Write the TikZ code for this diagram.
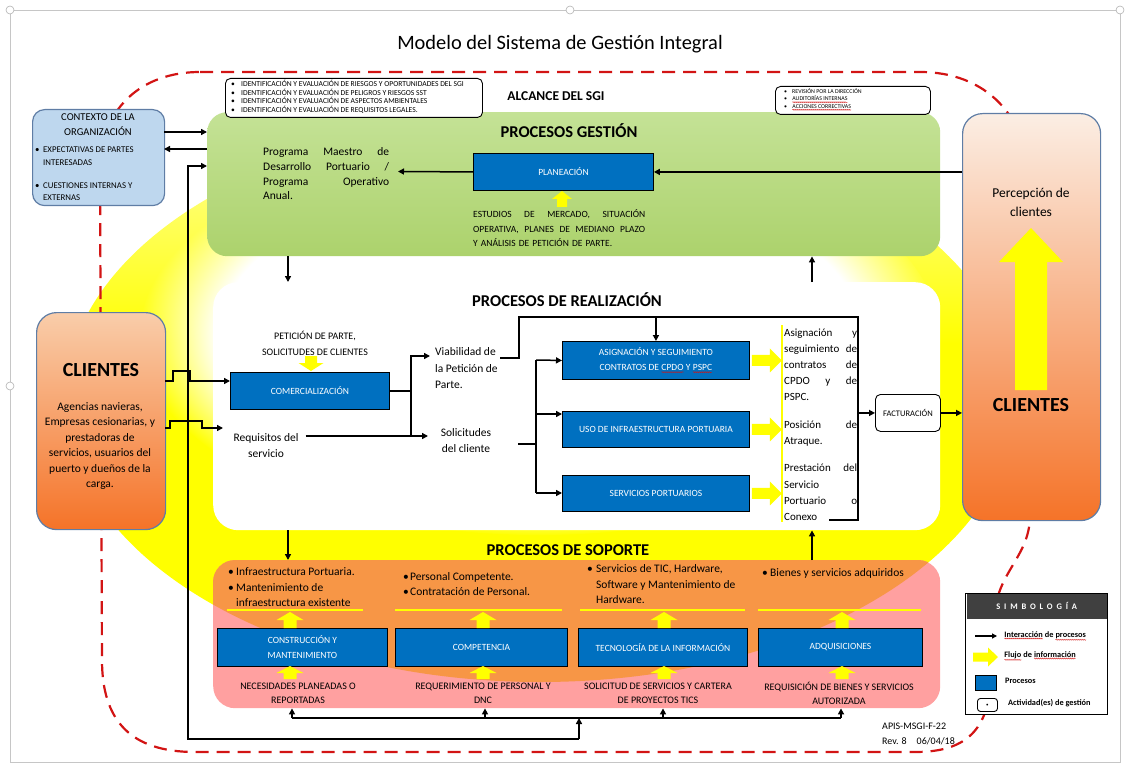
\documentclass[tikz,border=0pt]{standalone}
\usepackage{fontspec}
\setmainfont{Carlito}
\newfontfamily\spacedfont[LetterSpace=45]{Carlito}
\usetikzlibrary{arrows.meta,decorations.pathmorphing,fadings}

\definecolor{procblue}{RGB}{0,112,192}
\definecolor{gestgreenT}{RGB}{196,226,150}
\definecolor{gestgreenB}{RGB}{172,210,108}
\definecolor{ctxblue}{RGB}{190,215,238}
\definecolor{boxedge}{RGB}{95,125,165}
\definecolor{cliTopL}{RGB}{249,205,170}
\definecolor{cliTopR}{RGB}{251,238,228}
\definecolor{cliBot}{RGB}{245,115,40}
\definecolor{sopPink}{RGB}{255,160,160}
\definecolor{sopOrange}{RGB}{247,150,70}
\definecolor{scopeRed}{RGB}{210,20,20}
\definecolor{infoYellow}{RGB}{255,255,0}
\definecolor{symbGray}{RGB}{64,64,64}

\pgfdeclareverticalshading{glowv}{100bp}{color(0bp)=(infoYellow); color(55bp)=(infoYellow); color(72bp)=(infoYellow!45); color(100bp)=(infoYellow!8)}

% linea justificada a un ancho dado
\newcommand\spreadto[2]{\makebox[#1][s]{\spaceskip=0pt\xspaceskip=0pt\relax #2}}
% subrayado ondulado rojo (marca de ortografia)
\newcommand\spellwave[1]{\tikz[baseline=(sw.base), x=1cm, y=1cm]{\node[rectangle, draw=none, fill=none, inner sep=0pt,
    outer sep=0pt, minimum width=0pt, minimum height=0pt, anchor=center] (sw) {#1};
  \draw[scopeRed, fill=none, line width=0.4pt, decorate, decoration={snake, amplitude=0.55pt, segment length=2pt}]
    ([yshift=-1.2pt]sw.south west) -- ([yshift=-1.2pt]sw.south east);}}

\tikzset{
  % flecha gruesa amarilla: largo/ancho cuerpo/ancho punta/largo punta
  pics/flechaInfo/.style args={#1/#2/#3/#4}{code={
    \fill[infoYellow] (0,-#2/2) -- (#1-#4,-#2/2) -- (#1-#4,-#3/2) -- (#1,0)
      -- (#1-#4,#3/2) -- (#1-#4,#2/2) -- (0,#2/2) -- cycle;}}
}

\begin{document}
\begin{tikzpicture}[x=1pt, y=-1pt,
    zonebox/.style={rectangle, rounded corners=20pt, inner sep=0pt, anchor=north west},
    procbox/.style={rectangle, draw=black, line width=0.9pt, fill=procblue, text=white,
      font=\fontsize{9.5}{15}\selectfont, align=center, inner sep=0pt, anchor=north west},
    notebox/.style={rectangle, rounded corners=5pt, draw=black, line width=0.9pt, fill=white,
      inner sep=0pt, anchor=north west},
    clientbox/.style={rectangle, rounded corners=20pt, draw=boxedge, line width=1.2pt,
      inner sep=0pt, anchor=north west, bottom color=cliBot},
    flow/.style={line width=1.5pt, -{Triangle[length=6pt,width=6pt]}},
    link/.style={line width=1.5pt},
    zonetitle/.style={font=\bfseries\fontsize{16.5}{18}\selectfont, inner sep=0pt},
    body/.style={inner sep=0pt, font=\fontsize{11.5}{15.5}\selectfont},
    smallcaps/.style={inner sep=0pt, font=\fontsize{10}{14}\selectfont},
    leyenda/.style={inner sep=0pt, anchor=west, font=\bfseries\fontsize{8.3}{9}\selectfont},
    scopeline/.style={draw=scopeRed, line width=2.2pt, dash pattern=on 13pt off 8pt}]
  \useasboundingbox (0,0) rectangle (1126,767);

  % marco de la captura
  \draw[gray!45, line width=0.6pt] (10,10) rectangle (1120,762);
  \foreach \hx/\hy in {10/10, 570/10, 1120/10, 10/386}
    \draw[gray!60, fill=white, line width=0.6pt] (\hx,\hy) circle [radius=4pt];

  % titulo
  \node[font=\fontsize{20.4}{22}\selectfont] (titulo) at (560,44) {Modelo del Sistema de Gestión Integral};

  % elipse amarilla y alcance
  \shade[shading=glowv] (540,400) ellipse [x radius=475pt, y radius=282pt];
  \fill[white, path fading=circle with fuzzy edge 20 percent] (540,335) ellipse [x radius=400pt, y radius=200pt];
  \draw[scopeline] (200,72) -- (920,72) .. controls (985,72) and (1030,115) .. (1030,190)
    -- (1030,515) .. controls (1030,555) and (1000,570) .. (995,610)
    -- (990,690) .. controls (985,735) and (960,752) .. (915,752)
    -- (195,752) .. controls (130,752) and (102,720) .. (102,660)
    -- (100,170) .. controls (100,110) and (140,72) .. (200,72);

  % zonas de procesos
  \node[zonebox, minimum width=733pt, minimum height=144pt, top color=gestgreenT, bottom color=gestgreenB] (gestion) at (207,112) {};
  \node[zonebox, rounded corners=25pt, minimum width=727pt, minimum height=248pt, fill=white] (realiz) at (213,282) {};
  \node[zonebox, rounded corners=22pt, minimum width=727pt, minimum height=148pt, fill=sopPink] (soporte) at (213,560) {};
  \begin{scope}
    \clip[rounded corners=22pt] (soporte.north west) rectangle (soporte.south east);
    \fill[sopOrange] (540,400) ellipse [x radius=475pt, y radius=282pt];
  \end{scope}

  % recuadros superiores
  \node[notebox, minimum width=257pt, minimum height=39pt] (riesgos) at (225,78) {};
  \node[inner sep=0pt, anchor=west, align=left, font=\fontsize{7.6}{8.6}\selectfont] (riesgostxt) at (231,97)
    {\makebox[10pt][l]{\textbullet}IDENTIFICACIÓN Y EVALUACIÓN DE RIESGOS Y OPORTUNIDADES DEL SGI\\
     \makebox[10pt][l]{\textbullet}IDENTIFICACIÓN Y EVALUACIÓN DE PELIGROS Y RIESGOS SST\\
     \makebox[10pt][l]{\textbullet}IDENTIFICACIÓN Y EVALUACIÓN DE ASPECTOS AMBIENTALES\\
     \makebox[10pt][l]{\textbullet}IDENTIFICACIÓN Y EVALUACIÓN DE REQUISITOS LEGALES.};
  \node[font=\bfseries\fontsize{13.5}{15}\selectfont] (alcance) at (556,96) {ALCANCE DEL SGI};
  \node[notebox, minimum width=155pt, minimum height=28pt] (revision) at (775,86) {};
  \node[inner sep=0pt, anchor=west, align=left, font=\fontsize{5.9}{7.6}\selectfont] (revisiontxt) at (784,99.5)
    {\makebox[8pt][l]{\textbullet}REVISIÓN POR LA DIRECCIÓN\\
     \makebox[8pt][l]{\textbullet}\spellwave{AUDITORÍAS INTERNAS}\\
     \makebox[8pt][l]{\textbullet}\spellwave{ACCIONES CORRECTIVAS}};

  % contexto de la organizacion
  \node[zonebox, rounded corners=12pt, minimum width=132pt, minimum height=96pt, fill=ctxblue, draw=boxedge, line width=1.2pt] (contexto) at (32,109) {};
  \node[inner sep=0pt, align=center, font=\fontsize{10.5}{15}\selectfont] (contextotit) at (98,125) {CONTEXTO DE LA\\ORGANIZACIÓN};
  \node[inner sep=0pt, anchor=west, align=left, font=\fontsize{8.8}{12.5}\selectfont] (expectativas) at (35,156)
    {\makebox[8pt][l]{\textbullet}EXPECTATIVAS DE PARTES\\\hspace*{8pt}INTERESADAS};
  \node[inner sep=0pt, anchor=west, align=left, font=\fontsize{8.8}{12.5}\selectfont] (cuestiones) at (35,191.5)
    {\makebox[8pt][l]{\textbullet}CUESTIONES INTERNAS Y\\\hspace*{8pt}EXTERNAS};

  % clientes
  \node[clientbox, top color=cliTopL, minimum width=129pt, minimum height=217pt] (clienteIzq) at (36,312) {};
  \node[font=\bfseries\fontsize{20}{22}\selectfont] (cliIzqTit) at (101,370) {CLIENTES};
  \node[body, align=center] (cliIzqTxt) at (100,446) {Agencias navieras,\\Empresas cesionarias, y\\prestadoras de\\servicios, usuarios del\\puerto y dueños de la\\carga.};
  \node[clientbox, top color=cliTopR, minimum width=138pt, minimum height=407pt] (clienteDer) at (962,113) {};
  \node[body, align=center, font=\fontsize{13.5}{19}\selectfont] (percepcion) at (1031,202.5) {Percepción de\\clientes};
  \pic[rotate=90] at (1031,390) {flechaInfo=162/32/64/34};
  \node[font=\bfseries\fontsize{20}{22}\selectfont] (cliDerTit) at (1031,405) {CLIENTES};

  % procesos gestion
  \node[zonetitle] (gestTit) at (569,131) {PROCESOS GESTIÓN};
  \node[procbox, minimum width=180pt, minimum height=37pt] (planeacion) at (473,153) {PLANEACIÓN};
  \node[body, text width=126pt, align=left, anchor=west, font=\fontsize{11.5}{14.7}\selectfont] (programa) at (263,174)
    {\spreadto{126pt}{Programa Maestro de}\\\spreadto{126pt}{Desarrollo Portuario /}\\\spreadto{126pt}{Programa Operativo}\\Anual.};
  \pic[rotate=90] at (562,207) {flechaInfo=16/10/20/8};
  \node[smallcaps, text width=172pt, align=left, anchor=west, font=\fontsize{9.5}{14.5}\selectfont] (estudios) at (473,228.5)
    {\spreadto{172pt}{ESTUDIOS DE MERCADO, SITUACIÓN}\\\spreadto{172pt}{OPERATIVA, PLANES DE MEDIANO PLAZO}\\Y ANÁLISIS DE PETICIÓN DE PARTE.};
  \coordinate (programaFin) at (398,171.5);
  \draw[flow] (planeacion.west) -- (programaFin);
  \draw[flow] (clienteDer.west |- planeacion.east) -- (planeacion.east);

  % contexto <-> gestion
  \coordinate (ctxSale) at (164,132);
  \coordinate (ctxEntra) at (164,149);
  \coordinate (ctxBus) at (207,166);
  \draw[flow] (ctxSale) -- (ctxSale -| gestion.west);
  \draw[flow] (ctxEntra -| gestion.west) -- (ctxEntra);

  % procesos de realizacion
  \node[zonetitle] (realTit) at (567,300) {PROCESOS DE REALIZACIÓN};
  \node[smallcaps, align=center, font=\fontsize{10}{16.5}\selectfont] (peticion) at (315,343.5) {PETICIÓN DE PARTE,\\SOLICITUDES DE CLIENTES};
  \pic[rotate=-90] at (311,356) {flechaInfo=15/12/25/8};
  \node[procbox, minimum width=159pt, minimum height=37pt] (comercial) at (230,372) {COMERCIALIZACIÓN};
  \node[body, align=center] (requisitos) at (266,445.5) {Requisitos del\\servicio};
  \node[body, align=left, anchor=west, font=\fontsize{11.5}{16.5}\selectfont] (viabilidad) at (435,368.5) {Viabilidad de\\la Petición de\\Parte.};
  \node[body, align=center, font=\fontsize{11.5}{16}\selectfont] (solicitudes) at (466,441) {Solicitudes\\del cliente};
  \node[procbox, minimum width=187pt, minimum height=38pt] (asignacion) at (562,341) {ASIGNACIÓN Y SEGUIMIENTO\\CONTRATOS DE \spellwave{CPDO} Y \spellwave{PSPC}};
  \node[procbox, minimum width=187pt, minimum height=36pt] (usoinfra) at (562,411) {USO DE INFRAESTRUCTURA PORTUARIA};
  \node[procbox, minimum width=187pt, minimum height=36pt] (servicios) at (562,475) {SERVICIOS PORTUARIOS};
  \node[notebox, minimum width=65pt, minimum height=37pt, font=\fontsize{8.5}{9}\selectfont] (facturacion) at (875,394) {FACTURACIÓN};

  % clientes -> comercializacion / requisitos
  \coordinate (cliA) at (165,381);
  \coordinate (cliB) at (165,428);
  \coordinate (aReq) at (223,428);
  \draw[flow] (cliA) -- ++(8,0) -- ++(0,-10) -- ++(17,0) -- ++(0,10) -- (cliA -| comercial.west);
  \draw[flow] (cliB) -- ++(5,0) -- ++(0,-7) -- ++(32,0) -- ++(0,7) -- (aReq);

  % comercializacion -> viabilidad / solicitudes
  \coordinate (nudoCom) at (411,356);
  \coordinate (nudoSol) at (411,436);
  \coordinate (aViab) at (430,356);
  \coordinate (aSol) at (428,436);
  \draw[link] (comercial.east) -- (comercial.east -| nudoCom);
  \draw[link] ([xshift=7pt]requisitos.east |- nudoSol) -- (nudoSol);
  \draw[flow] (nudoSol) -- (nudoCom) -- (aViab);
  \draw[flow] (nudoSol) -- (aSol);

  % viabilidad -> corchete -> facturacion
  \coordinate (viabFin) at (500,358);
  \coordinate (llaveSup) at (858,317);
  \coordinate (llaveInf) at (858,520);
  \draw[link] (viabFin) -- ++(19,0) |- (llaveSup) -- (llaveInf) -- ++(-29,0);
  \draw[flow] (asignacion.north |- llaveSup) -- (asignacion.north);
  \draw[flow] (llaveSup |- facturacion.west) -- (facturacion.west);
  \draw[flow] (facturacion.east) -- (facturacion.east -| clienteDer.west);

  % solicitudes -> procesos
  \coordinate (solFin) at (518,444);
  \coordinate (ramaSup) at (536,360);
  \coordinate (ramaMed) at (536,414);
  \coordinate (ramaInf) at (536,493);
  \draw[link] (solFin) -- (solFin -| ramaSup);
  \draw[link] (ramaSup) -- (ramaInf);
  \draw[flow] (ramaSup) -- (asignacion.west);
  \draw[flow] (ramaMed) -- (ramaMed -| usoinfra.west);
  \draw[flow] (ramaInf) -- (ramaInf -| servicios.west);

  % salidas de realizacion
  \draw[infoYellow, line width=1.2pt] (782,325) -- (782,522);
  \foreach \proc in {asignacion, usoinfra, servicios}
    \pic at ([xshift=2pt]\proc.east) {flechaInfo=30/11/24/12};
  \node[body, text width=73pt, align=left, anchor=west, font=\fontsize{11}{16}\selectfont] (salidaAsig) at (784,365)
    {\spreadto{73pt}{Asignación y}\\\spreadto{73pt}{seguimiento de}\\\spreadto{73pt}{contratos de}\\\spreadto{73pt}{CPDO y de}\\PSPC.};
  \node[body, text width=73pt, align=left, anchor=west, font=\fontsize{11}{16}\selectfont] (salidaUso) at (784,433.5)
    {\spreadto{73pt}{Posición de}\\Atraque.};
  \node[body, text width=73pt, align=left, anchor=west, font=\fontsize{11}{16.3}\selectfont] (salidaServ) at (784,492.5)
    {\spreadto{73pt}{Prestación del}\\Servicio\\\spreadto{73pt}{Portuario o}\\Conexo};

  % enlaces entre zonas
  \coordinate (bajadaGR) at (288,256);
  \coordinate (subidaRG) at (812,282);
  \coordinate (bajadaRS) at (288,530);
  \coordinate (subidaSR) at (812,560);
  \draw[flow] (bajadaGR) -- (bajadaGR |- realiz.north);
  \draw[flow] (subidaRG) -- (subidaRG |- gestion.south);
  \draw[flow] (bajadaRS) -- (bajadaRS |- soporte.north);
  \draw[flow] (subidaSR) -- (subidaSR |- realiz.south);

  % procesos de soporte
  \node[zonetitle] (sopTit) at (568,550) {PROCESOS DE SOPORTE};
  \foreach \nom/\izq/\anc/\fx/\la/\lb/\lab in {
      constr/217/170/290/227/363/{CONSTRUCCIÓN Y\\MANTENIMIENTO},
      compet/395/172/483/395/562/{COMPETENCIA},
      tecno/578/169/664/580/745/{TECNOLOGÍA DE LA INFORMACIÓN},
      adqui/758/164/842/758/921/{ADQUISICIONES}}{
    \node[procbox, minimum width=\anc pt, minimum height=38pt] (\nom) at (\izq,628) {\lab};
    \draw[infoYellow, line width=1.2pt] (\la,610) -- (\lb,610);
    \pic[rotate=90] at (\fx,628) {flechaInfo=16/13/27/8};
    \pic[rotate=90] at (\fx,679) {flechaInfo=13/13/27/7};
  }
  \node[body, anchor=west, align=left] (infraTxt) at (228,587.5)
    {\makebox[8pt][l]{\textbullet}Infraestructura Portuaria.\\\makebox[8pt][l]{\textbullet}Mantenimiento de\\\hspace*{8pt}infraestructura existente};
  \node[body, anchor=west, align=left] (personalTxt) at (403,584)
    {\makebox[7pt][l]{\textbullet}Personal Competente.\\\makebox[7pt][l]{\textbullet}Contratación de Personal.};
  \node[body, anchor=west, align=left] (ticTxt) at (587,584.5)
    {\makebox[9pt][l]{\textbullet}Servicios de TIC, Hardware,\\\hspace*{9pt}Software y Mantenimiento de\\\hspace*{9pt}Hardware.};
  \node[body, anchor=west, align=left] (bienesTxt) at (762,573)
    {\makebox[8pt][l]{\textbullet}Bienes y servicios adquiridos};
  \node[smallcaps, align=center] (necesidades) at (298,693) {NECESIDADES PLANEADAS O\\REPORTADAS};
  \node[smallcaps, align=center] (requerimiento) at (483,693) {REQUERIMIENTO DE PERSONAL Y\\DNC};
  \node[smallcaps, align=center] (solicitudTic) at (658,693) {SOLICITUD DE SERVICIOS Y CARTERA\\DE PROYECTOS TICS};
  \node[smallcaps, align=center] (requisicion) at (839,693) {REQUISICIÓN DE BIENES Y SERVICIOS\\AUTORIZADA};

  % lineas inferiores de retorno
  \coordinate (busIzq) at (188,739);
  \coordinate (busCentro) at (579,739);
  \coordinate (repIzq) at (292,718);
  \coordinate (repDer) at (841,718);
  \draw[flow] (busCentro) -- (busIzq) |- (ctxBus);
  \draw[flow] (busCentro) -- (busCentro |- repIzq);
  \draw[link] (repIzq) -- (repDer);
  \foreach \bx in {292,485,663,841} {
    \coordinate (b\bx) at (\bx,718);
    \draw[flow] (b\bx) -- (b\bx |- soporte.south);
  }

  % simbologia
  \node[rectangle, draw=black, line width=1.3pt, fill=white, minimum width=142pt, minimum height=121pt, anchor=north west, inner sep=0pt] (simbologia) at (965,593) {};
  \node[rectangle, fill=symbGray, minimum width=140pt, minimum height=25pt, anchor=north, inner sep=0pt, text=white,
    font=\spacedfont\bfseries\fontsize{8.5}{9}\selectfont] (simbTit) at ([yshift=-0.7pt]simbologia.north) {SIMBOLOGÍA};
  \coordinate (leyA) at (975,636);
  \draw[line width=1.1pt, -{Triangle[length=5pt,width=5pt]}] (leyA) -- ++(22,0);
  \node[leyenda] (leyAtxt) at (1004,636) {\spellwave{Interacción} de \spellwave{procesos}};
  \pic at (973,657) {flechaInfo=25/9/19/10};
  \node[leyenda] (leyBtxt) at (1004,656) {\spellwave{Flujo} de \spellwave{información}};
  \node[rectangle, fill=procblue, draw=black, line width=0.8pt, minimum width=21pt, minimum height=15pt, anchor=north west, inner sep=0pt] (leyProc) at (975,675) {};
  \node[leyenda] (leyCtxt) at (1005,681) {Procesos};
  \node[notebox, rounded corners=3pt, minimum width=20pt, minimum height=13pt, font=\fontsize{5}{5}\selectfont] (leyAct) at (977,698) {\textbullet};
  \node[leyenda] (leyDtxt) at (1008,703) {Actividad(es) de gestión};

  % codigo del documento
  \node[inner sep=0pt, anchor=west, align=left, font=\fontsize{10}{15}\selectfont] (codigo) at (882,733.5) {APIS-MSGI-F-22\\Rev. 8\quad 06/04/18};
\end{tikzpicture}
\end{document}
